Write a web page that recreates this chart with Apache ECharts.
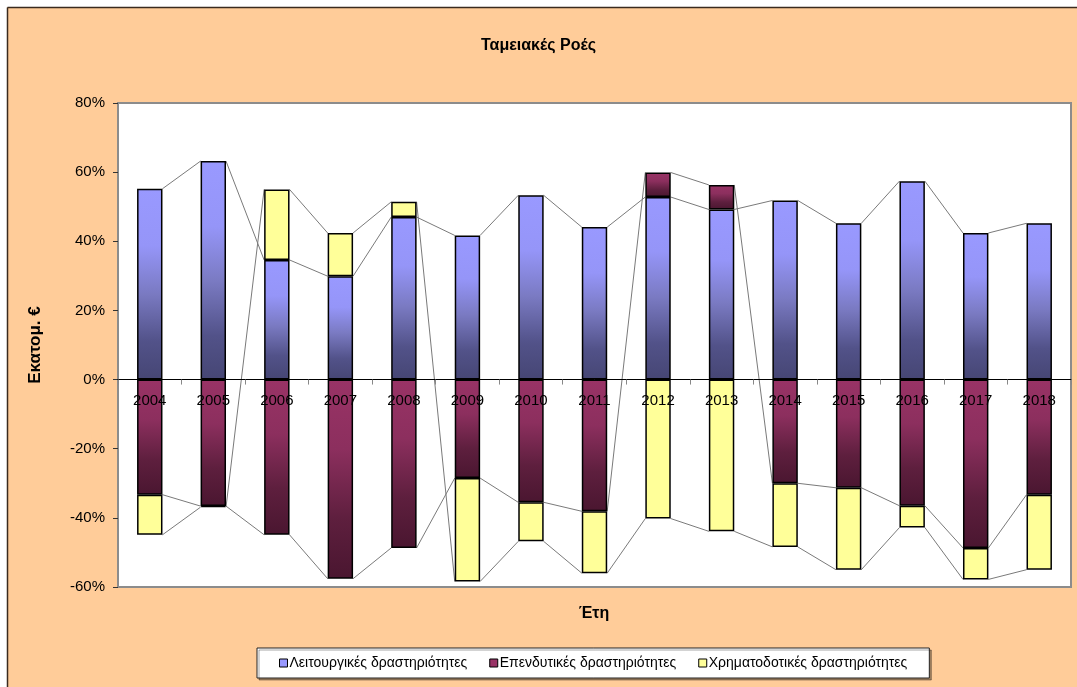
<!DOCTYPE html>
<html>
<head>
<meta charset="utf-8">
<script src="https://cdn.jsdelivr.net/npm/echarts@6/dist/echarts.min.js"></script>
<style>
html,body{margin:0;padding:0;background:#fff;}
#chart{width:1077px;height:687px;}
</style>
</head>
<body>
<div id="chart"></div>
<script>
const years = ['2004','2005','2006','2007','2008','2009','2010','2011','2012','2013','2014','2015','2016','2017','2018'];
const operating = [55.2, 63.2, 34.6, 29.9, 47.0, 41.7, 53.3, 44.1, 52.8, 49.2, 51.8, 45.2, 57.4, 42.4, 45.2];
const investing = [-33.3, -36.6, -44.9, -57.6, -48.7, -28.5, -35.5, -38.1, 7.1, 7.1, -30.0, -31.3, -36.5, -48.7, -33.3];
const financing = [-11.6, -0.3, 20.4, 12.5, 4.4, -29.9, -11.3, -17.9, -40.2, -43.9, -18.4, -23.7, -6.3, -9.1, -21.7];
const seriesNames = ['Λειτουργικές δραστηριότητες', 'Επενδυτικές δραστηριότητες', 'Χρηματοδοτικές δραστηριότητες'];
const yTicks = [-60, -40, -20, 0, 20, 40, 60, 80];

const FONT = '"Liberation Sans", Arial, sans-serif';
const allSeries = [operating, investing, financing];

// stacked end of each series segment (same-sign stacking)
function stackEnds(idx) {
  return years.map((_, j) => {
    const v = allSeries[idx][j];
    let s = 0;
    for (let k = 0; k <= idx; k++) {
      const w = allSeries[k][j];
      if ((w >= 0) === (v >= 0)) s += w;
    }
    return s;
  });
}
const lineData = [];
for (let s = 0; s < 3; s++) {
  const e = stackEnds(s);
  for (let j = 0; j < years.length - 1; j++) lineData.push([j, e[j], e[j + 1]]);
}

const G = echarts.graphic.LinearGradient;
const blueGrad = new G(0, 0, 0, 1, [
  {offset: 0, color: '#9999FF'}, {offset: 0.3, color: '#9595F8'},
  {offset: 0.55, color: '#7A7AC2'}, {offset: 0.8, color: '#525289'}, {offset: 1, color: '#464674'}]);
const maroonGrad = new G(0, 0, 0, 1, [
  {offset: 0, color: '#993366'}, {offset: 0.35, color: '#8C2F5E'},
  {offset: 0.7, color: '#5E1F3E'}, {offset: 1, color: '#4A1630'}]);

const chart = echarts.init(document.getElementById('chart'));
chart.setOption({
  backgroundColor: '#FFCC99',
  animation: false,
  textStyle: {fontFamily: FONT},
  title: {
    text: 'Ταμειακές Ροές', left: 'center', top: 33,
    textStyle: {fontSize: 16, fontWeight: 'bold', color: '#000', fontFamily: FONT}
  },
  graphic: [
    {type: 'rect', shape: {x: 0, y: 0, width: 1077, height: 7}, style: {fill: '#fff'}, silent: true},
    {type: 'rect', shape: {x: 0, y: 0, width: 7, height: 687}, style: {fill: '#fff'}, silent: true},
    {type: 'line', shape: {x1: 7.5, y1: 7.5, x2: 1077, y2: 7.5}, style: {stroke: '#3a2a1e', lineWidth: 1.5}, silent: true},
    {type: 'line', shape: {x1: 7.5, y1: 7.5, x2: 7.5, y2: 687}, style: {stroke: '#3a2a1e', lineWidth: 1.5}, silent: true},
    {type: 'text', x: 594, y: 614, style: {text: 'Έτη', font: 'bold 16px ' + FONT, fill: '#000', align: 'center', verticalAlign: 'middle'}}
  ],
  legend: {
    data: [
      {name: seriesNames[0], itemStyle: {color: '#9999FF', borderColor: '#000', borderWidth: 1}},
      {name: seriesNames[1], itemStyle: {color: '#993366', borderColor: '#000', borderWidth: 1}},
      {name: seriesNames[2], itemStyle: {color: '#FFFF99', borderColor: '#000', borderWidth: 1}}
    ],
    left: 257, top: 648,
    backgroundColor: '#fff', borderColor: '#222', borderWidth: 1,
    shadowColor: 'rgba(0,0,0,0.35)', shadowOffsetX: 2, shadowOffsetY: 2,
    padding: [8, 22, 8, 22],
    itemWidth: 8, itemHeight: 8, itemGap: 22,
    icon: 'rect',
    textStyle: {fontSize: 14, color: '#000', fontFamily: FONT, padding: [0, 0, 0, -3]}
  },
  grid: {
    left: 118, right: 6, top: 103, bottom: 100,
    show: true, backgroundColor: '#fff', borderColor: '#8c8c8c', borderWidth: 2
  },
  xAxis: {
    type: 'category', data: years, z: 10,
    axisLine: {onZero: true, lineStyle: {color: '#000', width: 1}},
    axisTick: {show: true, length: 5, lineStyle: {color: '#888'}},
    axisLabel: {margin: -194, fontSize: 15, color: '#000', fontFamily: FONT}
  },
  yAxis: {
    type: 'value', min: yTicks[0], max: yTicks[yTicks.length - 1], interval: 20,
    name: 'Εκατομ. €', nameLocation: 'middle', nameGap: 74,
    nameTextStyle: {fontSize: 17, fontWeight: 'bold', color: '#000', fontFamily: FONT},
    axisLine: {show: false},
    axisTick: {show: true, length: 5, lineStyle: {color: '#333'}},
    splitLine: {show: false},
    axisLabel: {formatter: '{value}%', fontSize: 15, color: '#000', margin: 13, fontFamily: FONT}
  },
  series: [
    {name: seriesNames[0], type: 'bar', stack: 'cf', data: operating, barWidth: '40%',
     itemStyle: {color: blueGrad, borderColor: '#000', borderWidth: 1.5}},
    {name: seriesNames[1], type: 'bar', stack: 'cf', data: investing, barWidth: '40%',
     itemStyle: {color: maroonGrad, borderColor: '#000', borderWidth: 1.5}},
    {name: seriesNames[2], type: 'bar', stack: 'cf', data: financing, barWidth: '40%',
     itemStyle: {color: '#FFFF99', borderColor: '#000', borderWidth: 1.5}},
    {name: 'seriesLines', type: 'custom', data: lineData, z: 1, silent: true,
     encode: {x: 0, y: [1, 2]},
     renderItem: function (params, api) {
       const j = api.value(0);
       const p1 = api.coord([j, api.value(1)]);
       const p2 = api.coord([j + 1, api.value(2)]);
       const half = api.size([1, 0])[0] * 0.2;
       return {type: 'line', shape: {x1: p1[0] + half, y1: p1[1], x2: p2[0] - half, y2: p2[1]},
               style: {stroke: '#7a7a7a', lineWidth: 1}};
     }}
  ]
});
</script>
</body>
</html>
